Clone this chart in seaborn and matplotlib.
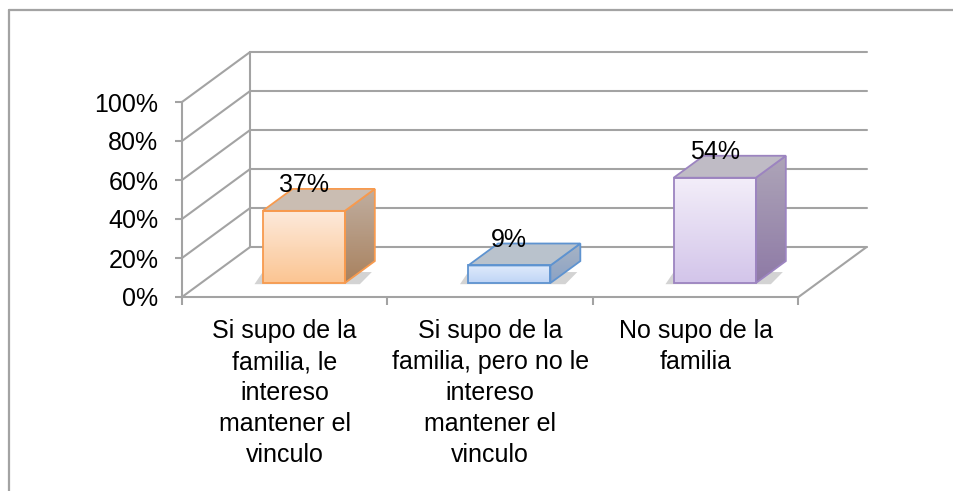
import numpy as np
import pandas as pd
import seaborn as sns
import matplotlib.pyplot as plt
from matplotlib.patches import Polygon, Rectangle
from matplotlib.colors import LinearSegmentedColormap
from matplotlib.lines import Line2D

categories = ["Si supo de la\nfamilia, le\nintereso\nmantener el\nvinculo",
              "Si supo de la\nfamilia, pero no le\nintereso\nmantener el\nvinculo",
              "No supo de la\nfamilia"]
values = [37, 9, 54]
value_labels = ["37%", "9%", "54%"]
y_ticks = [0, 20, 40, 60, 80, 100]
y_tick_labels = ["0%", "20%", "40%", "60%", "80%", "100%"]

# colours per bar
front_top = ["#fdeadb", "#dfeafb", "#f3eef9"]
front_bottom = ["#fbc593", "#bfd5f6", "#d3c5ea"]
edge_cols = ["#f79a4e", "#5e93d0", "#9c84c0"]
top_cols = ["#cabdb2", "#b9c2cc", "#bfbbc5"]
side_top = ["#c0aea0", "#a8b4c4", "#aea5b8"]
side_bottom = ["#a9825f", "#8ba2c4", "#8e7aa6"]

grid_col = "#a3a3a3"
DX, DY = 0.331, 25.6          # full depth offset in data units
d0, d1 = 0.28, 0.72           # bar depth range

sns.set_style("white")
plt.rcParams["font.family"] = ["Liberation Sans", "DejaVu Sans"]

fig = plt.figure(figsize=(9.54, 4.91), dpi=100)
ax = fig.add_axes([182 / 954, (491 - 297) / 491, 616.5 / 954, 195 / 491])

df = pd.DataFrame({"cat": categories, "val": values})
sns.barplot(data=df, x="cat", y="val", ax=ax, width=0.4, color="white",
            linewidth=0, zorder=5)

# walls and floor
for v in y_ticks:
    ax.plot([-0.5 + DX, 2.5 + DX], [v + DY, v + DY], color=grid_col, lw=1.5,
            clip_on=False, zorder=1)
    ax.plot([-0.5, -0.5 + DX], [v, v + DY], color=grid_col, lw=1.5,
            clip_on=False, zorder=1)
ax.plot([-0.5 + DX, -0.5 + DX], [DY, 100 + DY], color=grid_col, lw=1.5,
        clip_on=False, zorder=1)
ax.plot([2.5, 2.5 + DX], [0, DY], color=grid_col, lw=1.5, clip_on=False, zorder=1)

ddx, ddy = (d1 - d0) * DX, (d1 - d0) * DY
for i, p in enumerate(ax.patches):
    p.set_x(p.get_x() + d0 * DX)
    p.set_y(p.get_y() + d0 * DY)
    x0, y0, w, h = p.get_x(), p.get_y(), p.get_width(), p.get_height()
    x1, y1 = x0 + w, y0 + h
    # soft shadow under the bar
    ax.add_patch(Polygon([(x0 - 0.04, y0 - 0.6), (x1 + ddx * 0.5, y0 - 0.6),
                          (x1 + ddx * 0.9, y0 + ddy * 0.5), (x0, y0 + ddy * 0.5)],
                         closed=True, facecolor="#6f6f6f", alpha=0.3, lw=0,
                         zorder=2))
    # front face gradient
    cm = LinearSegmentedColormap.from_list("f%d" % i, [front_bottom[i], front_top[i]])
    im = ax.imshow(np.linspace(0, 1, 64).reshape(-1, 1), cmap=cm, aspect="auto",
                   origin="lower", extent=[x0, x1, y0, y1], zorder=6)
    im.set_clip_path(p)
    # side face gradient
    side = Polygon([(x1, y0), (x1 + ddx, y0 + ddy), (x1 + ddx, y1 + ddy), (x1, y1)],
                   closed=True, facecolor="none", edgecolor="none", zorder=6)
    ax.add_patch(side)
    cm2 = LinearSegmentedColormap.from_list("s%d" % i, [side_bottom[i], side_top[i]])
    im2 = ax.imshow(np.linspace(0, 1, 64).reshape(-1, 1), cmap=cm2, aspect="auto",
                    origin="lower", extent=[x1, x1 + ddx, y0, y1 + ddy], zorder=6)
    im2.set_clip_path(side)
    ax.add_patch(Polygon(side.get_xy(), closed=True, fill=False,
                         edgecolor=edge_cols[i], lw=1.3, zorder=7))
    ax.add_patch(Polygon([(x0, y1), (x1, y1), (x1 + ddx, y1 + ddy), (x0 + ddx, y1 + ddy)],
                         closed=True, facecolor=top_cols[i], edgecolor=edge_cols[i],
                         lw=1.3, zorder=7))
    ax.add_patch(Rectangle((x0, y0), w, h, fill=False, edgecolor=edge_cols[i],
                           lw=1.3, zorder=8))
    ax.text(x0 + w / 2, y1 + 9.7, value_labels[i], ha="center", va="baseline",
            fontsize=18, color="black", zorder=9)

ax.set_xlim(-0.5, 2.5)
ax.set_ylim(0, 100)
for s in ["top", "right"]:
    ax.spines[s].set_visible(False)
for s in ["left", "bottom"]:
    ax.spines[s].set_color(grid_col)
    ax.spines[s].set_linewidth(1.5)

ax.set_yticks(y_ticks)
ax.set_yticklabels(y_tick_labels, fontsize=18, color="black")
ax.tick_params(axis="y", length=5, width=1.5, color=grid_col, pad=12, left=True)
ax.set_xticks([0, 1, 2])
ax.set_xticklabels(categories, fontsize=18, linespacing=1.37, color="black")
ax.set_xticks([-0.5, 0.5, 1.5, 2.5], minor=True)
ax.tick_params(axis="x", which="major", length=0, pad=16)
ax.tick_params(axis="x", which="minor", length=6, width=1.5, color=grid_col,
               bottom=True)
ax.set_xlabel("")
ax.set_ylabel("")
ax.set_facecolor("none")

# outer chart frame (left and top edges visible)
fig.add_artist(Line2D([9.5 / 954, 9.5 / 954], [0, 1 - 10 / 491], color=grid_col,
                      lw=1.6, transform=fig.transFigure))
fig.add_artist(Line2D([9.5 / 954, 1], [1 - 10 / 491, 1 - 10 / 491], color=grid_col,
                      lw=1.6, transform=fig.transFigure))

fig.savefig("out.png", dpi=100)
